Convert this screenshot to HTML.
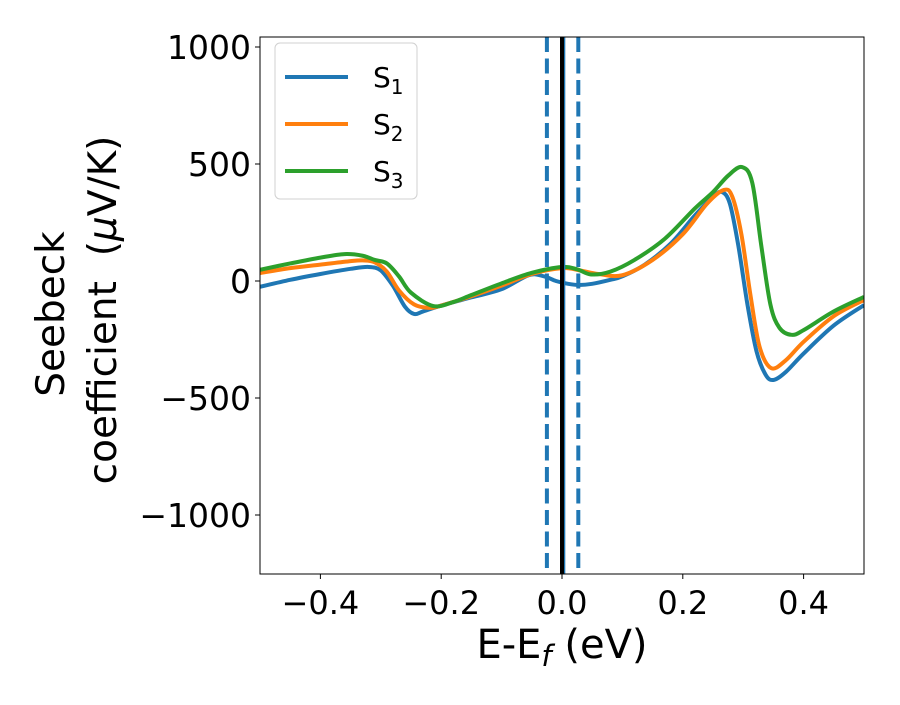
<!DOCTYPE html>
<html><head><meta charset="utf-8"><style>
body{margin:0;background:#fff}
svg text{font-family:"DejaVu Sans","Liberation Sans",sans-serif;fill:#000;white-space:pre}
</style></head><body>
<svg width="900" height="700" xmlns="http://www.w3.org/2000/svg">
<rect x="0" y="0" width="900" height="700" fill="#fff"/>
<g id="plot"></g>
<g id="axes"></g>
<g id="legend"></g>
</svg>
<script>
const xTicks=[-0.4,-0.2,0.0,0.2,0.4];
const yTicks=[1000,500,0,-500,-1000];
const s1X=[-0.5,-0.45,-0.4,-0.35,-0.32,-0.3,-0.28,-0.26,-0.245,-0.23,-0.2,-0.15,-0.1,-0.055,-0.03,-0.01,0.01,0.028,0.05,0.08,0.1,0.137,0.18,0.22,0.25,0.265,0.278,0.292,0.307,0.322,0.337,0.35,0.37,0.4,0.45,0.5];
const s1Y=[-25,5,30,52,60,45,-20,-110,-141,-130,-105,-70,-35,25,20,0,-12,-17,-12,5,20,70,160,280,360,380,330,150,-100,-300,-400,-423,-390,-310,-190,-103];
const s2X=[-0.5,-0.45,-0.4,-0.35,-0.33,-0.31,-0.29,-0.27,-0.245,-0.22,-0.2,-0.15,-0.1,-0.05,0,0.03,0.06,0.1,0.15,0.2,0.24,0.268,0.282,0.297,0.312,0.327,0.346,0.37,0.4,0.45,0.5];
const s2Y=[34,55,70,85,88,80,40,-40,-100,-115,-105,-65,-20,30,55,45,30,25,90,200,330,389,360,200,-60,-280,-372,-340,-260,-150,-81];
const s3X=[-0.5,-0.45,-0.4,-0.36,-0.33,-0.31,-0.29,-0.27,-0.25,-0.213,-0.18,-0.15,-0.1,-0.05,0,0.025,0.048,0.08,0.12,0.17,0.22,0.25,0.275,0.298,0.315,0.33,0.345,0.36,0.38,0.4,0.45,0.5];
const s3Y=[48,75,100,115,108,90,75,20,-50,-107,-90,-60,-10,35,60,50,28,40,90,180,310,380,450,487,420,150,-100,-200,-230,-210,-130,-68];
const series=[{name:"1",color:"#1f77b4",x:s1X,y:s1Y},{name:"2",color:"#ff7f0e",x:s2X,y:s2Y},{name:"3",color:"#2ca02c",x:s3X,y:s3Y}];
const L=260,R=864,T=37,B=574;
const xs=v=>562+v*604;
const ys=v=>281-v*0.234;
const NS="http://www.w3.org/2000/svg";
function mk(tag,attrs,parent){const e=document.createElementNS(NS,tag);for(const k in attrs)e.setAttribute(k,attrs[k]);parent.appendChild(e);return e;}
const plot=document.getElementById('plot'),axes=document.getElementById('axes'),legend=document.getElementById('legend');
const defs=mk('defs',{},plot);const cp=mk('clipPath',{id:'c'},defs);mk('rect',{x:L,y:T,width:R-L,height:B-T},cp);
const g=mk('g',{'clip-path':'url(#c)'},plot);
function smooth(px,py){let d=`M${px[0]},${py[0]}`;for(let i=0;i<px.length-1;i++){const p0=i?i-1:i,p3=i+2<px.length?i+2:i+1;const c1x=px[i]+(px[i+1]-px[p0])/6,c1y=py[i]+(py[i+1]-py[p0])/6,c2x=px[i+1]-(px[p3]-px[i])/6,c2y=py[i+1]-(py[p3]-py[i])/6;d+=`C${c1x},${c1y} ${c2x},${c2y} ${px[i+1]},${py[i+1]}`;}return d;}
series.forEach(s=>{const p=mk('path',{d:smooth(s.x.map(xs),s.y.map(ys)),fill:'none',stroke:s.color,'stroke-width':4,'stroke-linejoin':'round'},g);

});
[-0.025,0.027].forEach(v=>{const l=mk('line',{x1:xs(v),x2:xs(v),y1:T,y2:B,stroke:'#1f77b4','stroke-width':4,'stroke-dasharray':'15,6.5'},g);

});
const bl=mk('line',{x1:xs(0.003),x2:xs(0.003),y1:T,y2:B,stroke:'#1f77b4','stroke-width':3},g);


const kl=mk('line',{x1:xs(0),x2:xs(0),y1:T,y2:B,stroke:'#000','stroke-width':4},g);


const fr=mk('rect',{x:L,y:T,width:R-L,height:B-T,fill:'none',stroke:'#000','stroke-width':1},axes);


xTicks.forEach(v=>{mk('line',{x1:xs(v),x2:xs(v),y1:B,y2:B+5,stroke:'#000'},axes);
const t=mk('text',{x:xs(v),y:B+40,'font-size':32,'text-anchor':'middle'},axes);t.textContent=(v<0?'\u2212':'')+Math.abs(v).toFixed(1);

});
yTicks.forEach(v=>{mk('line',{x1:L-5,x2:L,y1:ys(v),y2:ys(v),stroke:'#000'},axes);
const t=mk('text',{x:L-9,y:ys(v)+12,'font-size':33,'text-anchor':'end'},axes);t.textContent=(v<0?'\u2212':'')+Math.abs(v);

});
const xl=mk('text',{x:562,y:658,'font-size':40,'text-anchor':'middle'},axes);xl.innerHTML='E-E<tspan font-style="italic" font-size="29" dy="8">f</tspan><tspan dy="-8"> (eV)</tspan>';


const yl=mk('text',{transform:'rotate(-90)','font-size':39,'text-anchor':'middle'},axes);
yl.innerHTML='<tspan x="-314" y="64">Seebeck</tspan><tspan x="-310" y="116">coefficient  (<tspan font-style="italic">μ</tspan>V/K)</tspan>';


const lb=mk('rect',{x:275,y:43,width:142,height:156,rx:5,fill:'#fff',stroke:'#ccc','stroke-width':1,opacity:0.9},legend);


series.forEach((s,i)=>{const y=77+i*47;
const gl=mk('g',{},legend);


mk('line',{x1:285,x2:348,y1:y,y2:y,stroke:s.color,'stroke-width':4},gl);
const t=mk('text',{x:373,y:y+10,'font-size':28},gl);t.innerHTML='S<tspan font-size="20" dy="7">'+s.name+'</tspan>';});
</script>
</body></html>
